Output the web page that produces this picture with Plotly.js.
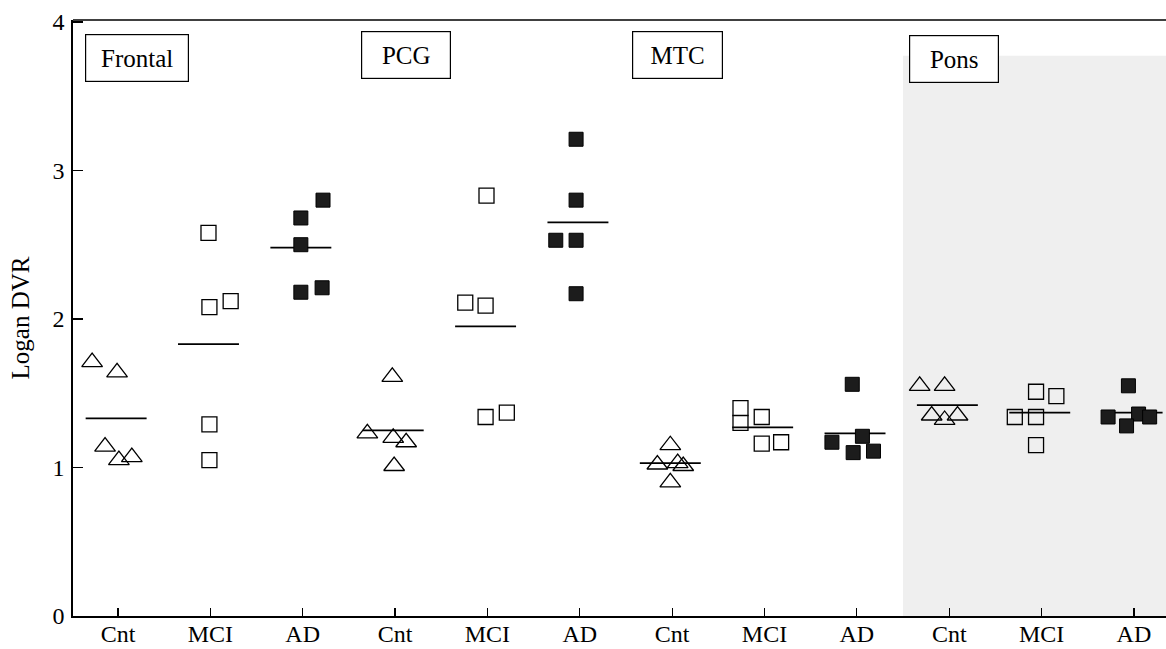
<!DOCTYPE html>
<html>
<head>
<meta charset="utf-8">
<script src="https://cdn.plot.ly/plotly-3.0.1.min.js"></script>
<style>html,body{margin:0;padding:0;background:#fff;}#chart{width:1166px;height:649px;}</style>
</head>
<body>
<div id="chart"></div>
<script>
// ---- data ----
const regions = ['Frontal', 'PCG', 'MTC', 'Pons'];
const groups = ['Cnt', 'MCI', 'AD'];

const frontalCnt = [1.71, 1.64, 1.14, 1.05, 1.07];
const frontalMCI = [2.58, 2.08, 2.12, 1.29, 1.05];
const frontalAD  = [2.68, 2.80, 2.50, 2.18, 2.21];
const pcgCnt = [1.61, 1.23, 1.20, 1.17, 1.01];
const pcgMCI = [2.83, 2.11, 2.09, 1.34, 1.37];
const pcgAD  = [3.21, 2.80, 2.53, 2.53, 2.17];
const mtcCnt = [1.15, 1.02, 1.03, 1.01, 0.90];
const mtcMCI = [1.40, 1.30, 1.34, 1.16, 1.17];
const mtcAD  = [1.56, 1.17, 1.21, 1.10, 1.11];
const ponsCnt = [1.55, 1.55, 1.35, 1.32, 1.35];
const ponsMCI = [1.51, 1.48, 1.34, 1.34, 1.15];
const ponsAD  = [1.55, 1.34, 1.36, 1.28, 1.34];

// horizontal scatter offsets of the points (category units)
const frontalCntJit = [-0.28, -0.01, -0.14, 0.01, 0.15];
const frontalMCIJit = [-0.02, -0.01, 0.22, -0.01, -0.01];
const frontalADJit  = [-0.02, 0.22, -0.02, -0.02, 0.21];
const pcgCntJit = [-0.03, -0.30, -0.02, 0.12, -0.01];
const pcgMCIJit = [-0.01, -0.24, -0.02, -0.02, 0.21];
const pcgADJit  = [-0.04, -0.04, -0.26, -0.04, -0.04];
const mtcCntJit = [-0.02, -0.16, 0.06, 0.12, -0.02];
const mtcMCIJit = [-0.26, -0.26, -0.03, -0.03, 0.18];
const mtcADJit  = [-0.05, -0.27, 0.06, -0.04, 0.18];
const ponsCntJit = [-0.32, -0.05, -0.19, -0.05, 0.09];
const ponsMCIJit = [-0.06, 0.16, -0.29, -0.06, -0.06];
const ponsADJit  = [-0.06, -0.28, 0.05, -0.08, 0.17];

// group means (horizontal bars)
const means = [1.33, 1.83, 2.48, 1.25, 1.95, 2.65, 1.03, 1.27, 1.23, 1.42, 1.37, 1.37];

// ---- build traces ----
const series = [
  [frontalCnt, frontalCntJit], [frontalMCI, frontalMCIJit], [frontalAD, frontalADJit],
  [pcgCnt, pcgCntJit], [pcgMCI, pcgMCIJit], [pcgAD, pcgADJit],
  [mtcCnt, mtcCntJit], [mtcMCI, mtcMCIJit], [mtcAD, mtcADJit],
  [ponsCnt, ponsCntJit], [ponsMCI, ponsMCIJit], [ponsAD, ponsADJit]
];
const markerFor = {
  Cnt: {symbol: 'triangle-up-open', size: 18, color: '#000', line: {width: 1.3, color: '#000'}},
  MCI: {symbol: 'square-open', size: 15, color: '#000', line: {width: 1.3, color: '#000'}},
  AD:  {symbol: 'square', size: 14, color: '#1c1c1c', line: {width: 1, color: '#000'}}
};
const tickvals = [], ticktext = [];
const traces = [];
// mean lines
const mx = [], my = [];
series.forEach((s, i) => {
  const pos = i + 1;
  mx.push(pos - 0.35, pos + 0.31, null);
  my.push(means[i], means[i], null);
});
traces.push({x: mx, y: my, mode: 'lines', line: {color: '#000', width: 1.8}, hoverinfo: 'skip', showlegend: false});
series.forEach((s, i) => {
  const pos = i + 1;
  const g = groups[i % 3];
  tickvals.push(pos); ticktext.push(g);
  traces.push({
    x: s[1].map(j => pos + j), y: s[0], mode: 'markers', type: 'scatter',
    marker: markerFor[g], showlegend: false, name: regions[Math.floor(i / 3)] + ' ' + g
  });
});

const boxPos = [
  {x: 1.206, y: 3.76, w: 102},
  {x: 4.118, y: 3.78, w: 88},
  {x: 7.058, y: 3.78, w: 89},
  {x: 10.05, y: 3.75, w: 88}
];
const annotations = regions.map((r, k) => ({
  text: r, xref: 'x', yref: 'y', x: boxPos[k].x, y: boxPos[k].y, showarrow: false,
  width: boxPos[k].w, height: 46, bordercolor: '#000', borderwidth: 1.2, borderpad: 0,
  bgcolor: '#fff', font: {family: 'Liberation Serif', size: 25, color: '#000'}
}));

const layout = {
  width: 1166, height: 649,
  margin: {l: 73, r: 0, t: 20, b: 33, autoexpand: false},
  paper_bgcolor: '#fff', plot_bgcolor: '#fff',
  font: {family: 'Liberation Serif', color: '#000'},
  showlegend: false,
  xaxis: {
    range: [0.513, 12.347], tickvals: tickvals, ticktext: ticktext,
    ticks: 'inside', ticklen: 8, tickwidth: 1.2, tickcolor: '#000',
    showline: true, linecolor: '#000', linewidth: 1.6, showgrid: false, zeroline: false,
    tickfont: {family: 'Liberation Serif', size: 24, color: '#000'}, ticklabelstandoff: -4,
    automargin: false
  },
  yaxis: {
    range: [0, 4.013], tickvals: [0, 1, 2, 3, 4],
    ticks: 'inside', ticklen: 10, tickwidth: 1.2, tickcolor: '#000',
    showline: true, linecolor: '#000', linewidth: 1.6, showgrid: false, zeroline: false,
    tickfont: {family: 'Liberation Serif', size: 24, color: '#000'}, ticklabelstandoff: 2,
    title: {text: 'Logan DVR', font: {family: 'Liberation Serif', size: 25, color: '#000'}, standoff: 16},
    automargin: false
  },
  shapes: [
    {type: 'rect', xref: 'x', yref: 'paper', x0: 9.5, x1: 12.347, y0: 0, y1: 0.94,
     fillcolor: '#efefef', line: {width: 0}, layer: 'below'},
    {type: 'line', xref: 'paper', yref: 'paper', x0: 0, x1: 1, y0: 1, y1: 1,
     line: {color: '#000', width: 1.6}}
  ],
  annotations: annotations
};

Plotly.newPlot('chart', traces, layout, {displayModeBar: false, staticPlot: true});
</script>
</body>
</html>
